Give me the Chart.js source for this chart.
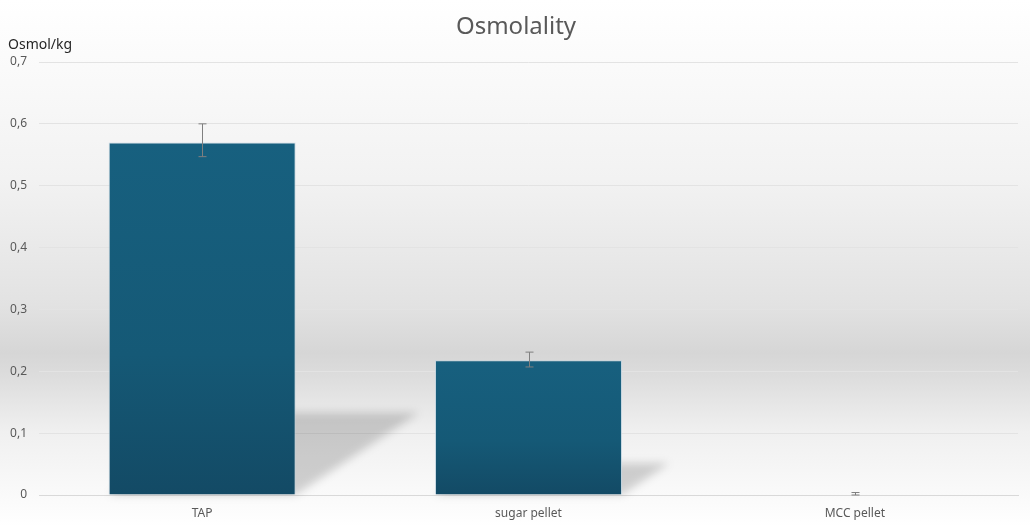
<!DOCTYPE html>
<html>
<head>
<meta charset="utf-8">
<script src="https://cdn.jsdelivr.net/npm/chart.js@4/dist/chart.umd.min.js"></script>
<style>
  html, body { margin: 0; padding: 0; background: #fff; }
  #wrap { width: 1030px; height: 527px; }
</style>
</head>
<body>
<div id="wrap"><canvas id="osmoChart" width="1030" height="527"></canvas></div>
<script>
// Données du graphique
const categories = ['TAP', 'sugar pellet', 'MCC pellet'];
const osmolality = [0.57, 0.218, 0.001];
const errPlus = [0.03, 0.013, 0.003];
const errMinus = [0.023, 0.011, 0.001];
const yTicks = [0, 0.1, 0.2, 0.3, 0.4, 0.5, 0.6, 0.7];

const FONT = '"Noto Sans", sans-serif';

// Format décimal avec virgule
function formatTick(v) {
    if (v === 0) return '0';
    return v.toFixed(1).replace('.', ',');
}

// Dégradé de fond (blanc -> gris -> blanc)
const backgroundPlugin = {
    id: 'bgGradient',
    beforeDraw(chart) {
        const { ctx, width, height } = chart;
        const g = ctx.createLinearGradient(0, 0, 0, height);
        g.addColorStop(0, '#ffffff');
        g.addColorStop(0.34, '#f2f2f2');
        g.addColorStop(0.58, '#e2e2e2');
        g.addColorStop(0.67, '#d6d6d6');
        g.addColorStop(0.71, '#dcdcdc');
        g.addColorStop(0.82, '#f0f0f0');
        g.addColorStop(1, '#ffffff');
        ctx.save();
        ctx.fillStyle = g;
        ctx.fillRect(0, 0, width, height);
        ctx.restore();
    }
};

// Ombres en perspective sous les barres
const shadowPlugin = {
    id: 'barShadows',
    beforeDatasetsDraw(chart) {
        const { ctx } = chart;
        const meta = chart.getDatasetMeta(0);
        ctx.save();
        ctx.fillStyle = 'rgba(0, 0, 0, 0.17)';
        ctx.filter = 'blur(4px)';
        meta.data.forEach(bar => {
            const h = bar.base - bar.y;
            if (h < 2) return;
            const half = bar.width / 2;
            const dx = h * 0.35;
            const dy = h * 0.232;
            ctx.beginPath();
            ctx.moveTo(bar.x - half, bar.base);
            ctx.lineTo(bar.x + half, bar.base);
            ctx.lineTo(bar.x + half + dx, bar.base - dy);
            ctx.lineTo(bar.x - half + dx, bar.base - dy);
            ctx.closePath();
            ctx.fill();
        });
        ctx.restore();
    }
};

// Barres d'erreur, titre et titre de l'axe Y
const errorBarPlugin = {
    id: 'errorBars',
    afterDatasetsDraw(chart) {
        const { ctx } = chart;
        const yScale = chart.scales.y;
        const meta = chart.getDatasetMeta(0);
        ctx.save();
        ctx.strokeStyle = '#7f7f7f';
        ctx.lineWidth = 1;
        meta.data.forEach((bar, i) => {
            const top = yScale.getPixelForValue(osmolality[i] + errPlus[i]);
            const bottom = yScale.getPixelForValue(osmolality[i] - errMinus[i]);
            const x = Math.round(bar.x) + 0.5;
            ctx.beginPath();
            ctx.moveTo(x, top);
            ctx.lineTo(x, bottom);
            ctx.moveTo(x - 4, top);
            ctx.lineTo(x + 4, top);
            ctx.moveTo(x - 4, bottom);
            ctx.lineTo(x + 4, bottom);
            ctx.stroke();
        });
        ctx.textBaseline = 'middle';
        ctx.fillStyle = '#595959';
        ctx.font = '24px ' + FONT;
        ctx.textAlign = 'center';
        ctx.fillText('Osmolality', chart.width / 2 + 1, 27);
        ctx.fillStyle = '#262626';
        ctx.font = '14px ' + FONT;
        ctx.textAlign = 'left';
        ctx.fillText('Osmol/kg', 8, 45);
        ctx.restore();
    }
};

// Dégradé vertical par barre
function barGradient(context) {
    const chart = context.chart;
    if (!chart.chartArea) return '#175f80';
    const y = chart.scales.y;
    const top = y.getPixelForValue(context.raw);
    const base = y.getPixelForValue(0);
    if (base - top < 1) return '#175f80';
    const g = chart.ctx.createLinearGradient(0, top, 0, base);
    g.addColorStop(0, '#17607f');
    g.addColorStop(0.6, '#155976');
    g.addColorStop(1, '#134a65');
    return g;
}

const ctx = document.getElementById('osmoChart').getContext('2d');
const osmoChart = new Chart(ctx, {
    type: 'bar',
    data: {
        labels: categories,
        datasets: [{
            label: 'Osmolality',
            data: osmolality,
            backgroundColor: barGradient,
            borderColor: 'rgba(190, 210, 222, 0.8)',
            borderWidth: 1,
            barPercentage: 0.573,
            categoryPercentage: 1
        }]
    },
    options: {
        responsive: false,
        animation: false,
        devicePixelRatio: 1,
        layout: { padding: { left: 0, right: 12, top: 62, bottom: 0 } },
        plugins: {
            legend: { display: false },
            tooltip: { enabled: false },
            title: { display: false }
        },
        scales: {
            x: {
                grid: { display: false, drawTicks: false },
                border: { display: true, color: '#d9d9d9' },
                ticks: {
                    color: '#595959',
                    font: { family: FONT, size: 12 },
                    padding: 11,
                    maxRotation: 0
                },
                afterFit(scale) { scale.height = 32; }
            },
            y: {
                min: 0,
                max: 0.7,
                afterBuildTicks(scale) {
                    scale.ticks = yTicks.map(v => ({ value: v }));
                },
                grid: { color: '#e3e3e3', drawTicks: false },
                border: { display: false },
                ticks: {
                    color: '#595959',
                    font: { family: FONT, size: 12 },
                    padding: 12,
                    callback: v => formatTick(v)
                },
                afterFit(scale) { scale.width = 39; }
            }
        }
    },
    plugins: [backgroundPlugin, shadowPlugin, errorBarPlugin]
});
</script>
</body>
</html>
